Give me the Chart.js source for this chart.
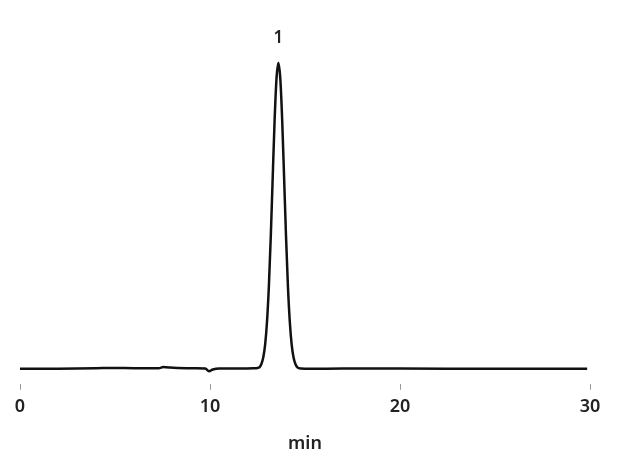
<!DOCTYPE html>
<html>
<head>
<meta charset="utf-8">
<script src="https://cdn.jsdelivr.net/npm/chart.js@4.4.1/dist/chart.umd.min.js"></script>
<style>
  html, body { margin: 0; padding: 0; background: #fff; }
  #wrap { width: 623px; height: 460px; }
</style>
</head>
<body>
<div id="wrap"><canvas id="chart"></canvas></div>
<script>
// retention time (min) and detector signal (relative units)
const tempos = [
  0, 2, 4, 5, 6, 7.3, 7.55, 7.7, 7.9, 8.3, 9.2, 9.75, 9.95, 10.15, 10.5, 11.5, 12.3, 12.5,
  12.6, 12.7, 12.8, 12.9, 13.0, 13.1, 13.2, 13.3, 13.4, 13.5, 13.6, 13.7, 13.8, 13.9, 14.0,
  14.1, 14.2, 14.3, 14.4, 14.5, 14.6, 14.8, 15.2, 17, 20, 25, 29.85
];
const sinal = [
  0, 0.05, 0.2, 0.3, 0.2, 0.2, 0.6, 0.5, 0.4, 0.3, 0.2, 0.1, -0.8, -0.2, 0.1, 0.1, 0.2, 0.3,
  0.5, 1.5, 3.6, 7.8, 15.4, 27.2, 43.5, 62.6, 81.2, 94.9, 100, 94.9, 81.2, 62.6, 43.5,
  27.2, 15.4, 7.8, 3.6, 1.5, 0.5, 0.1, 0.0, 0.1, 0.1, 0, 0
];
const xTicks = [0, 10, 20, 30];
const picos = [13.6];
const picosLabels = ['1'];
const picosAltura = [100];

const pontos = tempos.map((t, i) => ({ x: t, y: sinal[i] }));

// rótulos dos picos
const rotulosPicos = {
  id: 'rotulosPicos',
  afterDatasetsDraw(chart) {
    const ctx = chart.ctx;
    const xs = chart.scales.x, ys = chart.scales.y;
    ctx.save();
    ctx.fillStyle = '#222';
    ctx.font = '600 17px "Noto Sans"';
    ctx.textAlign = 'center';
    ctx.textBaseline = 'middle';
    picos.forEach((p, i) => {
      ctx.fillText(picosLabels[i], xs.getPixelForValue(p), ys.getPixelForValue(picosAltura[i]) - 25);
    });
    ctx.restore();
  }
};

new Chart(document.getElementById('chart'), {
  type: 'line',
  data: {
    datasets: [{
      data: pontos,
      borderColor: '#111',
      borderWidth: 2.5,
      pointRadius: 0,
      cubicInterpolationMode: 'monotone',
      fill: false
    }]
  },
  options: {
    responsive: true,
    maintainAspectRatio: false,
    animation: false,
    layout: { padding: { left: 20, right: 33, top: 20, bottom: 5 } },
    plugins: { legend: { display: false }, tooltip: { enabled: false } },
    scales: {
      x: {
        type: 'linear',
        min: 0, max: 30,
        afterBuildTicks: s => { s.ticks = xTicks.map(v => ({ value: v })); },
        border: { display: false },
        grid: { drawOnChartArea: false, drawTicks: true, tickLength: 6, color: '#999' },
        ticks: { color: '#222', padding: 6, font: { family: 'Noto Sans', size: 18, weight: '600' } },
        title: { display: true, text: 'min', color: '#222', padding: { top: 10, bottom: 0 }, font: { family: 'Noto Sans', size: 18, weight: '600' } }
      },
      y: {
        display: false,
        min: -4.9, max: 114.1
      }
    }
  },
  plugins: [rotulosPicos]
});
</script>
</body>
</html>
